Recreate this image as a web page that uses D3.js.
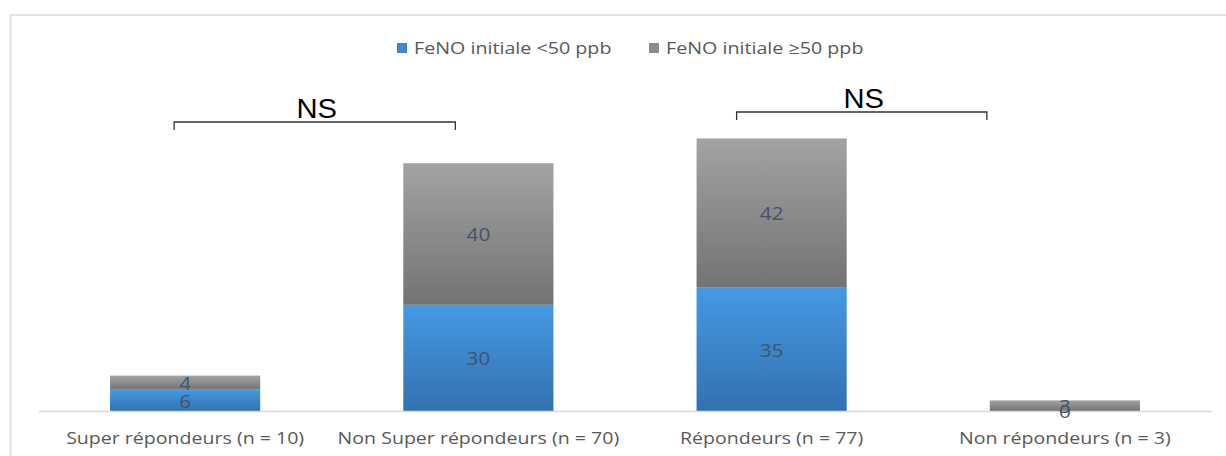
<!DOCTYPE html>
<html>
<head>
<meta charset="utf-8">
<script src="https://cdn.jsdelivr.net/npm/d3@7"></script>
<style>
  body { margin: 0; background: #fff; }
  svg { display: block; }
</style>
</head>
<body>
<svg id="chart" width="1226" height="456"></svg>
<script>
'use strict';

var categories = ['Super répondeurs (n = 10)', 'Non Super répondeurs (n = 70)', 'Répondeurs (n = 77)', 'Non répondeurs (n = 3)'];
var seriesNames = ['FeNO initiale <50 ppb', 'FeNO initiale ≥50 ppb'];
var lowValues = [6, 30, 35, 0];
var highValues = [4, 40, 42, 3];

var width = 1226, height = 456;
var baseline = 411;
var font = '"Open Sans", sans-serif';
// the original text is a little stretched horizontally
var stretch = 'scale(1.2,1)';

var svg = d3.select('#chart');

// chart frame
svg.append('rect')
    .attr('x', 10.5).attr('y', 15)
    .attr('width', 1230).attr('height', 460)
    .attr('fill', 'none')
    .attr('stroke', '#dfe4ea')
    .attr('stroke-width', 2);

var defs = svg.append('defs');
function grad(id, top, bottom) {
    var g = defs.append('linearGradient').attr('id', id)
        .attr('x1', 0).attr('y1', 0).attr('x2', 0).attr('y2', 1);
    g.append('stop').attr('offset', '0%').attr('stop-color', top);
    g.append('stop').attr('offset', '100%').attr('stop-color', bottom);
}
grad('gBlue', '#4599e3', '#3371b0');
grad('gGray', '#a3a3a3', '#737373');
var fills = ['url(#gBlue)', 'url(#gGray)'];
var swatch = ['#3f87d0', '#8c8c8c'];

var data = categories.map(function (c, i) {
    return { cat: c, low: lowValues[i], high: highValues[i] };
});

var stack = d3.stack().keys(['low', 'high']);
var series = stack(data);

var x = d3.scaleBand()
    .domain(categories)
    .range([38.5, 1211.5])
    .paddingInner(0.488)
    .paddingOuter(0.244);

var y = d3.scaleLinear()
    .domain([0, 80])
    .range([baseline, baseline - 80 * 3.54]);

// bars
var layer = svg.selectAll('g.layer')
    .data(series)
    .enter().append('g')
    .attr('class', 'layer')
    .attr('fill', function (d, i) { return fills[i]; });

layer.selectAll('rect')
    .data(function (d) { return d; })
    .enter().append('rect')
    .attr('x', function (d) { return x(d.data.cat); })
    .attr('y', function (d) { return y(d[1]); })
    .attr('width', x.bandwidth())
    .attr('height', function (d) { return y(d[0]) - y(d[1]); });

// x axis
var xAxis = d3.axisBottom(x).tickSize(0).tickPadding(21);
var axisG = svg.append('g')
    .attr('transform', 'translate(0,' + baseline + ')')
    .call(xAxis);
axisG.select('.domain').attr('stroke', '#d9d9d9').attr('stroke-width', 1.5);
axisG.selectAll('text')
    .attr('font-family', font)
    .attr('font-size', 16.3)
    .attr('fill', '#595959')
    .attr('transform', stretch);

// data labels (drawn after all bars so none is hidden)
var labels = svg.selectAll('g.labels')
    .data(series)
    .enter().append('g')
    .attr('class', 'labels');
labels.selectAll('text')
    .data(function (d) { return d; })
    .enter().append('text')
    .attr('transform', function (d) {
        return 'translate(' + (x(d.data.cat) + x.bandwidth() / 2) + ',' + ((y(d[0]) + y(d[1])) / 2 + 1) + ') scale(1.15,1)';
    })
    .attr('dy', '0.36em')
    .attr('text-anchor', 'middle')
    .attr('font-family', font)
    .attr('font-size', 18)
    .attr('fill', '#44546a')
    .text(function (d) { return d[1] - d[0]; });

// legend
var legendItems = [
    { name: seriesNames[0], color: swatch[0], x: 397 },
    { name: seriesNames[1], color: swatch[1], x: 649 }
];
var legend = svg.selectAll('g.legend')
    .data(legendItems)
    .enter().append('g')
    .attr('class', 'legend')
    .attr('transform', function (d) { return 'translate(' + d.x + ',43)'; });
legend.append('rect')
    .attr('width', 10).attr('height', 10)
    .attr('fill', function (d) { return d.color; });
legend.append('text')
    .attr('transform', 'translate(17,5) ' + stretch)
    .attr('dy', '0.36em')
    .attr('font-family', font)
    .attr('font-size', 16.4)
    .attr('fill', '#595959')
    .text(function (d) { return d.name; });

// significance brackets
var brackets = [
    { x1: x(categories[0]) + x.bandwidth() / 2 - 11, x2: x(categories[1]) + x.bandwidth() / 2 - 23, y: 122, label: 'NS' },
    { x1: x(categories[2]) + x.bandwidth() / 2 - 35, x2: x(categories[3]) + x.bandwidth() / 2 - 78, y: 112, label: 'NS' }
];
var br = svg.selectAll('g.bracket')
    .data(brackets)
    .enter().append('g')
    .attr('class', 'bracket');
br.append('path')
    .attr('d', function (d) {
        return 'M' + d.x1 + ',' + (d.y + 8) + 'V' + d.y + 'H' + d.x2 + 'V' + (d.y + 8);
    })
    .attr('fill', 'none')
    .attr('stroke', '#333')
    .attr('stroke-width', 1.3);
br.append('text')
    .attr('transform', function (d) {
        return 'translate(' + ((d.x1 + d.x2) / 2 + 2) + ',' + (d.y - 4) + ') scale(1.08,1)';
    })
    .attr('text-anchor', 'middle')
    .attr('font-family', 'Liberation Sans, Arial, sans-serif')
    .attr('font-size', 27)
    .attr('fill', '#000')
    .text(function (d) { return d.label; });
</script>
</body>
</html>
